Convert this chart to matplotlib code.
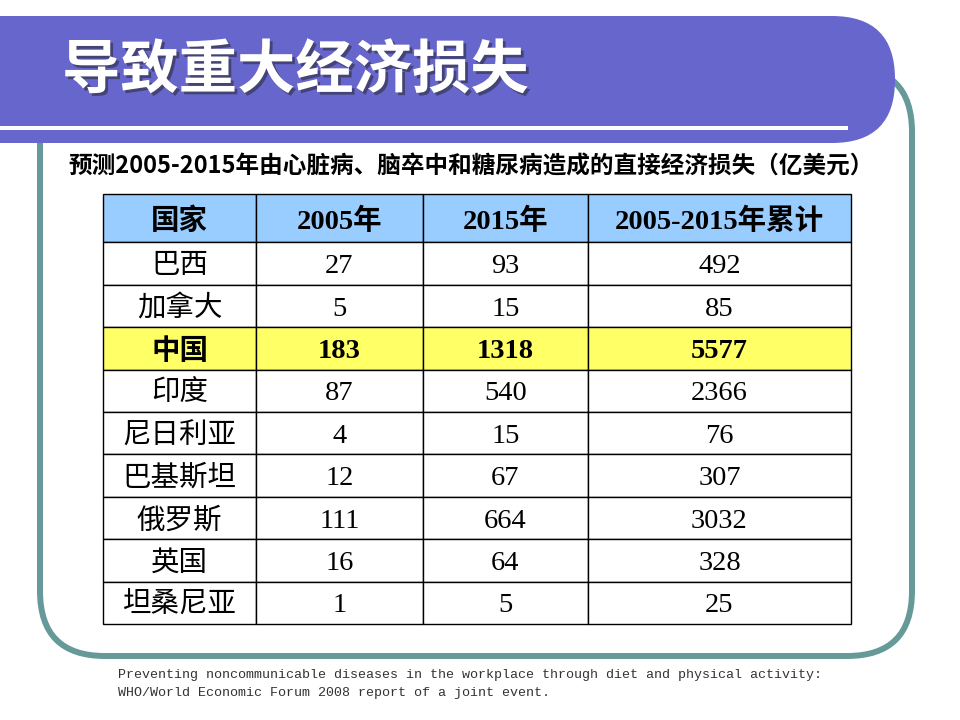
import matplotlib.pyplot as plt
import matplotlib.patheffects as pe
from matplotlib.patches import FancyBboxPatch

# slide texts and table data
title = "导致重大经济损失"
subtitle = "预测2005-2015年由心脏病、脑卒中和糖尿病造成的直接经济损失（亿美元）"
columns = ["国家", "2005年", "2015年", "2005-2015年累计"]
countries = ["巴西", "加拿大", "中国", "印度", "尼日利亚", "巴基斯坦", "俄罗斯", "英国", "坦桑尼亚"]
loss2005 = [27, 5, 183, 87, 4, 12, 111, 16, 1]
loss2015 = [93, 15, 1318, 540, 15, 67, 664, 64, 5]
loss_total = [492, 85, 5577, 2366, 76, 307, 3032, 328, 25]
highlight = "中国"
source = ["Preventing noncommunicable diseases in the workplace through diet and physical activity:",
          "WHO/World Economic Forum 2008 report of a joint event."]

cjk = "Noto Sans CJK SC"
cell_font = ["Liberation Serif", cjk]

fig = plt.figure(figsize=(9.6, 7.2), dpi=100)
ax = fig.add_axes([0, 0, 1, 1])
ax.set_xlim(0, 960)
ax.set_ylim(720, 0)
ax.axis("off")

# teal rounded frame, partly hidden by the banner
frame = FancyBboxPatch((40, 67), 872, 589, boxstyle="round,pad=0,rounding_size=65",
                       fill=False, ec="#669999", lw=4.3, zorder=1)
ax.add_patch(frame)

# purple banner with rounded right end
banner = FancyBboxPatch((-200, 16), 1095, 127, boxstyle="round,pad=0,rounding_size=63",
                        fc="#6666CC", ec="none", zorder=2)
ax.add_patch(banner)
ax.plot([0, 848], [128, 128], color="white", lw=2.9, solid_capstyle="butt", zorder=3)

ax.text(62, 71, title, color="white", fontsize=42, fontweight="bold", family=cjk,
        ha="left", va="center", zorder=4,
        path_effects=[pe.SimplePatchShadow(offset=(2, -2), shadow_rgbFace="#222222", alpha=0.5),
                      pe.Normal()])

ax.text(68, 167, subtitle, fontsize=17, fontweight="bold", family=cjk,
        ha="left", va="center", zorder=4)

# table
rows = []
for i in range(len(countries)):
    rows.append([countries[i], str(loss2005[i]), str(loss2015[i]), str(loss_total[i])])

col_w = [153, 167, 165, 263]
tbl = ax.table(cellText=rows, colLabels=columns, cellLoc="center",
               colWidths=[w / sum(col_w) for w in col_w],
               bbox=[103 / 960, (720 - 624) / 720, 748 / 960, 430.5 / 720])
tbl.auto_set_font_size(False)
tbl.set_zorder(4)

for (r, c), cell in tbl.get_celld().items():
    cell.set_linewidth(1.0)
    cell.set_edgecolor("black")
    txt = cell.get_text()
    txt.set_family(cell_font)
    txt.set_fontsize(20.5)
    txt.set_verticalalignment("center_baseline")
    if r == 0:
        cell.set_height(49)
        cell.set_facecolor("#99CCFF")
        txt.set_fontweight("bold")
    else:
        cell.set_height(42.4)
        if countries[r - 1] == highlight:
            cell.set_facecolor("#FFFF66")
            txt.set_fontweight("bold")
        else:
            cell.set_facecolor("white")

# source note
ax.text(118, 675, source[0], family="Liberation Mono", fontsize=9.6, color="#333333",
        ha="left", va="center")
ax.text(118, 693, source[1], family="Liberation Mono", fontsize=9.6, color="#333333",
        ha="left", va="center")

fig.savefig("out.png", dpi=100)
